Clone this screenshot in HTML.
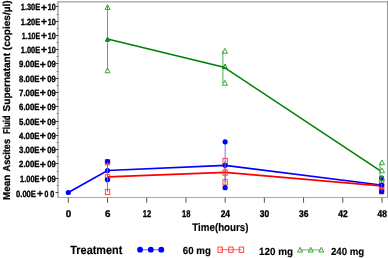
<!DOCTYPE html>
<html><head><meta charset="utf-8"><style>
html,body{margin:0;padding:0;background:#fff;}
body{width:388px;height:258px;overflow:hidden;}
svg{display:block;will-change:transform;}
text{font-family:"Liberation Sans",sans-serif;font-weight:bold;fill:#000;text-rendering:geometricPrecision;}
.yl{font-size:9.0px;stroke:#000;stroke-width:0.35px;}
.pl{font-size:10.4px;}
.xl{font-size:9.8px;stroke:#000;stroke-width:0.35px;}
.tt{font-size:11px;stroke:#000;stroke-width:0.15px;}
.yt{font-size:10px;stroke:#000;stroke-width:0.25px;}
.lg{font-size:12px;stroke:#000;stroke-width:0.15px;}
.mg{font-size:10.4px;}
</style></head><body>
<svg width="388" height="258" viewBox="0 0 388 258">
<line x1="58" y1="1" x2="58" y2="198" stroke="#c0c0c0" stroke-width="2"/>
<line x1="58" y1="1.8" x2="387.5" y2="1.8" stroke="#a0a0a0" stroke-width="1.2"/>
<line x1="387.5" y1="1" x2="387.5" y2="198" stroke="#999" stroke-width="1"/>
<line x1="57.5" y1="197.5" x2="388" y2="197.5" stroke="#a8a8a8" stroke-width="1.2"/>
<line x1="55.6" y1="192.50" x2="58.4" y2="192.50" stroke="#444" stroke-width="1"/>
<line x1="56.6" y1="185.50" x2="58.2" y2="185.50" stroke="#777" stroke-width="1"/>
<line x1="55.6" y1="178.50" x2="58.4" y2="178.50" stroke="#444" stroke-width="1"/>
<line x1="56.6" y1="171.50" x2="58.2" y2="171.50" stroke="#777" stroke-width="1"/>
<line x1="55.6" y1="163.50" x2="58.4" y2="163.50" stroke="#444" stroke-width="1"/>
<line x1="56.6" y1="156.50" x2="58.2" y2="156.50" stroke="#777" stroke-width="1"/>
<line x1="55.6" y1="149.50" x2="58.4" y2="149.50" stroke="#444" stroke-width="1"/>
<line x1="56.6" y1="142.50" x2="58.2" y2="142.50" stroke="#777" stroke-width="1"/>
<line x1="55.6" y1="135.50" x2="58.4" y2="135.50" stroke="#444" stroke-width="1"/>
<line x1="56.6" y1="128.50" x2="58.2" y2="128.50" stroke="#777" stroke-width="1"/>
<line x1="55.6" y1="121.50" x2="58.4" y2="121.50" stroke="#444" stroke-width="1"/>
<line x1="56.6" y1="113.50" x2="58.2" y2="113.50" stroke="#777" stroke-width="1"/>
<line x1="55.6" y1="106.50" x2="58.4" y2="106.50" stroke="#444" stroke-width="1"/>
<line x1="56.6" y1="99.50" x2="58.2" y2="99.50" stroke="#777" stroke-width="1"/>
<line x1="55.6" y1="92.50" x2="58.4" y2="92.50" stroke="#444" stroke-width="1"/>
<line x1="56.6" y1="85.50" x2="58.2" y2="85.50" stroke="#777" stroke-width="1"/>
<line x1="55.6" y1="78.50" x2="58.4" y2="78.50" stroke="#444" stroke-width="1"/>
<line x1="56.6" y1="71.50" x2="58.2" y2="71.50" stroke="#777" stroke-width="1"/>
<line x1="55.6" y1="63.50" x2="58.4" y2="63.50" stroke="#444" stroke-width="1"/>
<line x1="56.6" y1="56.50" x2="58.2" y2="56.50" stroke="#777" stroke-width="1"/>
<line x1="55.6" y1="49.50" x2="58.4" y2="49.50" stroke="#444" stroke-width="1"/>
<line x1="56.6" y1="42.50" x2="58.2" y2="42.50" stroke="#777" stroke-width="1"/>
<line x1="55.6" y1="35.50" x2="58.4" y2="35.50" stroke="#444" stroke-width="1"/>
<line x1="56.6" y1="28.50" x2="58.2" y2="28.50" stroke="#777" stroke-width="1"/>
<line x1="55.6" y1="21.50" x2="58.4" y2="21.50" stroke="#444" stroke-width="1"/>
<line x1="56.6" y1="14.50" x2="58.2" y2="14.50" stroke="#777" stroke-width="1"/>
<line x1="55.6" y1="6.50" x2="58.4" y2="6.50" stroke="#444" stroke-width="1"/>
<text x="35.9" y="196.50" text-anchor="end" class="yl" textLength="19.8" lengthAdjust="spacingAndGlyphs">0.00E</text>
<text x="40.1" y="196.70" text-anchor="middle" class="yl pl">+</text>
<text x="44.6" y="196.50" class="yl" textLength="3.9" lengthAdjust="spacingAndGlyphs">0</text>
<text x="50.3" y="196.50" class="yl" textLength="4" lengthAdjust="spacingAndGlyphs">0</text>
<text x="39.50" y="181.72" text-anchor="end" class="yl" textLength="19.4" lengthAdjust="spacingAndGlyphs">1.00E</text>
<text x="42.80" y="181.92" text-anchor="middle" class="yl pl">+</text>
<text x="55.7" y="181.72" text-anchor="end" class="yl" textLength="8.5" lengthAdjust="spacingAndGlyphs">09</text>
<text x="39.50" y="167.44" text-anchor="end" class="yl" textLength="20.4" lengthAdjust="spacingAndGlyphs">2.00E</text>
<text x="42.80" y="167.64" text-anchor="middle" class="yl pl">+</text>
<text x="55.7" y="167.44" text-anchor="end" class="yl" textLength="8.5" lengthAdjust="spacingAndGlyphs">09</text>
<text x="39.50" y="153.16" text-anchor="end" class="yl" textLength="20.4" lengthAdjust="spacingAndGlyphs">3.00E</text>
<text x="42.80" y="153.36" text-anchor="middle" class="yl pl">+</text>
<text x="55.7" y="153.16" text-anchor="end" class="yl" textLength="8.5" lengthAdjust="spacingAndGlyphs">09</text>
<text x="39.50" y="138.88" text-anchor="end" class="yl" textLength="20.4" lengthAdjust="spacingAndGlyphs">4.00E</text>
<text x="42.80" y="139.08" text-anchor="middle" class="yl pl">+</text>
<text x="55.7" y="138.88" text-anchor="end" class="yl" textLength="8.5" lengthAdjust="spacingAndGlyphs">09</text>
<text x="39.50" y="124.60" text-anchor="end" class="yl" textLength="20.4" lengthAdjust="spacingAndGlyphs">5.00E</text>
<text x="42.80" y="124.80" text-anchor="middle" class="yl pl">+</text>
<text x="55.7" y="124.60" text-anchor="end" class="yl" textLength="8.5" lengthAdjust="spacingAndGlyphs">09</text>
<text x="39.50" y="110.32" text-anchor="end" class="yl" textLength="20.4" lengthAdjust="spacingAndGlyphs">6.00E</text>
<text x="42.80" y="110.52" text-anchor="middle" class="yl pl">+</text>
<text x="55.7" y="110.32" text-anchor="end" class="yl" textLength="8.5" lengthAdjust="spacingAndGlyphs">09</text>
<text x="39.50" y="96.04" text-anchor="end" class="yl" textLength="20.4" lengthAdjust="spacingAndGlyphs">7.00E</text>
<text x="42.80" y="96.24" text-anchor="middle" class="yl pl">+</text>
<text x="55.7" y="96.04" text-anchor="end" class="yl" textLength="8.5" lengthAdjust="spacingAndGlyphs">09</text>
<text x="39.50" y="81.76" text-anchor="end" class="yl" textLength="20.4" lengthAdjust="spacingAndGlyphs">8.00E</text>
<text x="42.80" y="81.96" text-anchor="middle" class="yl pl">+</text>
<text x="55.7" y="81.76" text-anchor="end" class="yl" textLength="8.5" lengthAdjust="spacingAndGlyphs">09</text>
<text x="39.50" y="67.48" text-anchor="end" class="yl" textLength="20.4" lengthAdjust="spacingAndGlyphs">9.00E</text>
<text x="42.80" y="67.68" text-anchor="middle" class="yl pl">+</text>
<text x="55.7" y="67.48" text-anchor="end" class="yl" textLength="8.5" lengthAdjust="spacingAndGlyphs">09</text>
<text x="40.20" y="53.20" text-anchor="end" class="yl" textLength="19.4" lengthAdjust="spacingAndGlyphs">1.00E</text>
<text x="44.00" y="53.40" text-anchor="middle" class="yl pl">+</text>
<text x="55.7" y="53.20" text-anchor="end" class="yl" textLength="8.0" lengthAdjust="spacingAndGlyphs">10</text>
<text x="40.20" y="38.92" text-anchor="end" class="yl" textLength="18.4" lengthAdjust="spacingAndGlyphs">1.10E</text>
<text x="44.00" y="39.12" text-anchor="middle" class="yl pl">+</text>
<text x="55.7" y="38.92" text-anchor="end" class="yl" textLength="8.0" lengthAdjust="spacingAndGlyphs">10</text>
<text x="40.20" y="24.64" text-anchor="end" class="yl" textLength="19.4" lengthAdjust="spacingAndGlyphs">1.20E</text>
<text x="44.00" y="24.84" text-anchor="middle" class="yl pl">+</text>
<text x="55.7" y="24.64" text-anchor="end" class="yl" textLength="8.0" lengthAdjust="spacingAndGlyphs">10</text>
<text x="40.20" y="10.36" text-anchor="end" class="yl" textLength="19.4" lengthAdjust="spacingAndGlyphs">1.30E</text>
<text x="44.00" y="10.56" text-anchor="middle" class="yl pl">+</text>
<text x="55.7" y="10.36" text-anchor="end" class="yl" textLength="8.0" lengthAdjust="spacingAndGlyphs">10</text>
<line x1="68.30" y1="197.5" x2="68.30" y2="202.8" stroke="#555" stroke-width="1"/>
<text x="68.50" y="217.1" text-anchor="middle" class="xl">0</text>
<line x1="107.51" y1="197.5" x2="107.51" y2="202.8" stroke="#555" stroke-width="1"/>
<text x="107.71" y="217.1" text-anchor="middle" class="xl">6</text>
<line x1="146.72" y1="197.5" x2="146.72" y2="202.8" stroke="#555" stroke-width="1"/>
<text x="142.72" y="217.1" class="xl" textLength="8.4" lengthAdjust="spacingAndGlyphs">12</text>
<line x1="185.94" y1="197.5" x2="185.94" y2="202.8" stroke="#555" stroke-width="1"/>
<text x="181.94" y="217.1" class="xl" textLength="8.4" lengthAdjust="spacingAndGlyphs">18</text>
<line x1="225.15" y1="197.5" x2="225.15" y2="202.8" stroke="#555" stroke-width="1"/>
<text x="220.65" y="217.1" class="xl" textLength="9.4" lengthAdjust="spacingAndGlyphs">24</text>
<line x1="264.36" y1="197.5" x2="264.36" y2="202.8" stroke="#555" stroke-width="1"/>
<text x="259.86" y="217.1" class="xl" textLength="9.4" lengthAdjust="spacingAndGlyphs">30</text>
<line x1="303.57" y1="197.5" x2="303.57" y2="202.8" stroke="#555" stroke-width="1"/>
<text x="299.07" y="217.1" class="xl" textLength="9.4" lengthAdjust="spacingAndGlyphs">36</text>
<line x1="342.79" y1="197.5" x2="342.79" y2="202.8" stroke="#555" stroke-width="1"/>
<text x="338.29" y="217.1" class="xl" textLength="9.4" lengthAdjust="spacingAndGlyphs">42</text>
<line x1="382.00" y1="197.5" x2="382.00" y2="202.8" stroke="#555" stroke-width="1"/>
<text x="377.50" y="217.1" class="xl" textLength="9.4" lengthAdjust="spacingAndGlyphs">48</text>
<text x="192.3" y="231.1" class="tt" textLength="56.2" lengthAdjust="spacingAndGlyphs">Time(hours)</text>
<text transform="translate(10,200) rotate(-90)" x="0" y="0" class="yt" textLength="25.4" lengthAdjust="spacingAndGlyphs">Mean</text>
<text transform="translate(10,200) rotate(-90)" x="28.6" y="0" class="yt" textLength="32.4" lengthAdjust="spacingAndGlyphs">Ascites</text>
<text transform="translate(10,200) rotate(-90)" x="66.1" y="0" class="yt" textLength="18.4" lengthAdjust="spacingAndGlyphs">Fluid</text>
<text transform="translate(10,200) rotate(-90)" x="88.6" y="0" class="yt" textLength="111" lengthAdjust="spacingAndGlyphs">Supernatant (copies/µl)</text>
<line x1="107.51" y1="161.5" x2="107.51" y2="179.7" stroke="#5050ff" stroke-width="0.9"/>
<line x1="225.15" y1="141.8" x2="225.15" y2="187.7" stroke="#6a6aff" stroke-width="0.9"/>
<line x1="381.6" y1="178" x2="381.6" y2="191.5" stroke="#5050ff" stroke-width="0.9"/>
<polyline points="68.30,192.5 107.51,170.5 225.15,165.3 381,185" fill="none" stroke="#0000ff" stroke-width="1.7"/>
<polyline points="107.51,176.9 225.15,172.4 381,185.9" fill="none" stroke="#ff0000" stroke-width="1.7"/>
<rect x="105.31" y="159.55" width="4.4" height="5.3" fill="none" stroke="#ff3c3c" stroke-width="0.95"/>
<rect x="105.31" y="174.75" width="4.4" height="5.3" fill="none" stroke="#ff3c3c" stroke-width="0.95"/>
<rect x="105.31" y="189.35" width="4.4" height="5.3" fill="none" stroke="#ff3c3c" stroke-width="0.95"/>
<rect x="222.95" y="158.35" width="4.4" height="5.3" fill="none" stroke="#ff3c3c" stroke-width="0.95"/>
<rect x="222.95" y="169.95" width="4.4" height="5.3" fill="none" stroke="#ff3c3c" stroke-width="0.95"/>
<rect x="222.95" y="179.65" width="4.4" height="5.3" fill="none" stroke="#ff3c3c" stroke-width="0.95"/>
<rect x="379.40" y="180.95" width="4.4" height="5.3" fill="none" stroke="#ff3c3c" stroke-width="0.95"/>
<rect x="379.40" y="184.75" width="4.4" height="5.3" fill="none" stroke="#ff3c3c" stroke-width="0.95"/>
<rect x="379.40" y="188.55" width="4.4" height="5.3" fill="none" stroke="#ff3c3c" stroke-width="0.95"/>
<circle cx="68.30" cy="192.50" r="2.6" fill="#0000ff"/>
<circle cx="107.51" cy="161.50" r="2.6" fill="#0000ff"/>
<circle cx="107.51" cy="170.60" r="2.6" fill="#0000ff"/>
<circle cx="107.51" cy="179.70" r="2.6" fill="#0000ff"/>
<circle cx="225.15" cy="141.80" r="2.6" fill="#0000ff"/>
<circle cx="225.15" cy="165.30" r="2.6" fill="#0000ff"/>
<circle cx="225.15" cy="187.70" r="2.6" fill="#0000ff"/>
<circle cx="381.60" cy="178.00" r="2.6" fill="#0000ff"/>
<circle cx="381.60" cy="185.20" r="2.6" fill="#0000ff"/>
<circle cx="381.60" cy="191.50" r="2.6" fill="#0000ff"/>
<line x1="107.51" y1="162" x2="107.51" y2="191.8" stroke="#ff4040" stroke-width="0.9"/>
<line x1="225.15" y1="161" x2="225.15" y2="182.3" stroke="#ff4040" stroke-width="0.9"/>
<line x1="381.6" y1="183.6" x2="381.6" y2="191.2" stroke="#ff4040" stroke-width="0.9"/>
<line x1="107.51" y1="5" x2="107.51" y2="70" stroke="#3aa63a" stroke-width="0.9"/>
<line x1="222.9" y1="51" x2="222.9" y2="83" stroke="#3aa63a" stroke-width="0.9"/>
<line x1="380" y1="162.5" x2="380" y2="178.2" stroke="#3aa63a" stroke-width="0.9"/>
<path d="M107.51,4.65 L110.01,9.45 L105.01,9.45 Z" fill="none" stroke="#3aa63a" stroke-width="1"/>
<path d="M107.51,67.95 L110.01,72.75 L105.01,72.75 Z" fill="none" stroke="#3aa63a" stroke-width="1"/>
<path d="M224.90,48.45 L227.40,53.25 L222.40,53.25 Z" fill="none" stroke="#3aa63a" stroke-width="1"/>
<path d="M224.90,80.45 L227.40,85.25 L222.40,85.25 Z" fill="none" stroke="#3aa63a" stroke-width="1"/>
<path d="M382.00,159.95 L384.50,164.75 L379.50,164.75 Z" fill="none" stroke="#3aa63a" stroke-width="1"/>
<path d="M382.00,167.95 L384.50,172.75 L379.50,172.75 Z" fill="none" stroke="#3aa63a" stroke-width="1"/>
<path d="M382.00,175.65 L384.50,180.45 L379.50,180.45 Z" fill="none" stroke="#3aa63a" stroke-width="1"/>
<polyline points="107.51,39 223.9,67.2 379.7,170.3" fill="none" stroke="#008000" stroke-width="1.6"/>
<path d="M107.51,37.11 L109.61,41.19 L105.41,41.19 Z" fill="#2a8a2a" stroke="#008000" stroke-width="1"/>
<path d="M225.00,64.23 L227.30,68.67 L222.70,68.67 Z" fill="none" stroke="#008000" stroke-width="1"/>
<text x="70.3" y="253.7" class="lg" textLength="52" lengthAdjust="spacingAndGlyphs">Treatment</text>
<line x1="139.8" y1="249.7" x2="161.4" y2="249.7" stroke="#7a7aff" stroke-width="1.2"/>
<circle cx="140.10" cy="249.70" r="2.9" fill="#0000ff"/>
<circle cx="150.80" cy="249.70" r="2.9" fill="#0000ff"/>
<circle cx="161.30" cy="249.70" r="2.9" fill="#0000ff"/>
<text x="182.8" y="254.4" class="lg mg" textLength="28" lengthAdjust="spacingAndGlyphs">60 mg</text>
<line x1="219.8" y1="249.7" x2="241.4" y2="249.7" stroke="#ff8080" stroke-width="1.2"/>
<rect x="218.00" y="247.05" width="4.4" height="5.3" fill="none" stroke="#ff3c3c" stroke-width="0.95"/>
<rect x="228.70" y="247.05" width="4.4" height="5.3" fill="none" stroke="#ff3c3c" stroke-width="0.95"/>
<rect x="239.20" y="247.05" width="4.4" height="5.3" fill="none" stroke="#ff3c3c" stroke-width="0.95"/>
<text x="259" y="254.5" class="lg mg" textLength="34" lengthAdjust="spacingAndGlyphs">120 mg</text>
<line x1="300.1" y1="249.9" x2="321.3" y2="249.9" stroke="#80c880" stroke-width="1.2"/>
<path d="M300.10,247.25 L302.60,252.05 L297.60,252.05 Z" fill="none" stroke="#3aa63a" stroke-width="1"/>
<path d="M310.70,247.25 L313.20,252.05 L308.20,252.05 Z" fill="none" stroke="#3aa63a" stroke-width="1"/>
<path d="M321.30,247.25 L323.80,252.05 L318.80,252.05 Z" fill="none" stroke="#3aa63a" stroke-width="1"/>
<text x="330.9" y="254.6" class="lg mg" textLength="33.4" lengthAdjust="spacingAndGlyphs">240 mg</text>
</svg>
</body></html>
